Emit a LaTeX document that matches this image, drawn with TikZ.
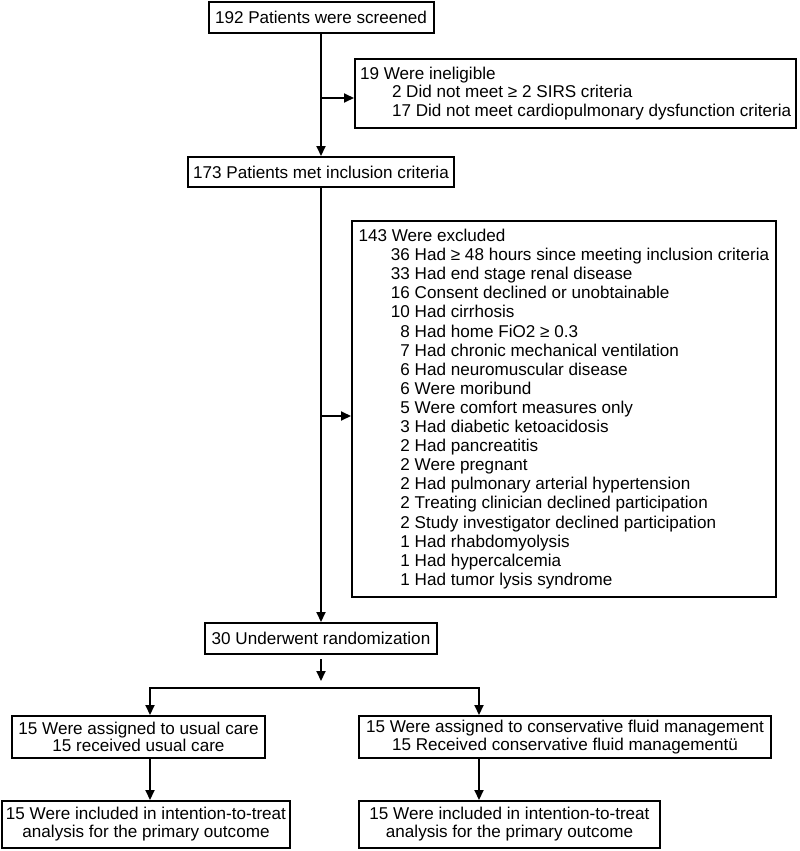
\documentclass[tikz,border=0pt]{standalone}
\usepackage{fontspec}
\setmainfont{Liberation Sans}
\usetikzlibrary{arrows.meta}
\newcommand\fs[1]{\fontsize{17.1pt}{#1}\selectfont}
\newcommand\itm[2]{\makebox[51.5pt][r]{#1} #2}
\newcommand\subl[1]{\hspace*{32pt}#1}

\begin{document}
\begin{tikzpicture}[x=1pt, y=-1pt,
            box/.style = {draw, line width=2pt, inner xsep=0pt, inner ysep=0pt,
                          font=\fs{18pt}, align=center},
            listbox/.style = {box, align=left, anchor=west},
            arr/.style = {line width=2pt, -{Triangle[length=10pt,width=9pt]}},
            arrboth/.style = {line width=2pt,
                          {Triangle[length=10pt,width=9pt]}-{Triangle[length=10pt,width=9pt]}}]
\useasboundingbox (0,0) rectangle (800,851);

\node[box, minimum width=225pt, minimum height=31pt] (screen) at (321,17.5)
    {192 Patients were screened};
\node[listbox, inner xsep=5pt, minimum height=69pt, font=\fs{18.5pt}] (inelig) at (354,93.5)
    {19 Were ineligible\\
     \subl{2 Did not meet ≥ 2 SIRS criteria}\\
     \subl{17 Did not meet cardiopulmonary dysfunction criteria}};
\node[box, minimum width=266pt, minimum height=30pt] (incl) at (321,172)
    {173 Patients met inclusion criteria};
\node[listbox, inner xsep=6.5pt, minimum height=376pt, font=\fs{19.1pt}] (excl) at (351,409)
    {143 Were excluded\\
     \itm{36}{Had ≥ 48 hours since meeting inclusion criteria}\\
     \itm{33}{Had end stage renal disease}\\
     \itm{16}{Consent declined or unobtainable}\\
     \itm{10}{Had cirrhosis}\\
     \itm{8}{Had home FiO2 ≥ 0.3}\\
     \itm{7}{Had chronic mechanical ventilation}\\
     \itm{6}{Had neuromuscular disease}\\
     \itm{6}{Were moribund}\\
     \itm{5}{Were comfort measures only}\\
     \itm{3}{Had diabetic ketoacidosis}\\
     \itm{2}{Had pancreatitis}\\
     \itm{2}{Were pregnant}\\
     \itm{2}{Had pulmonary arterial hypertension}\\
     \itm{2}{Treating clinician declined participation}\\
     \itm{2}{Study investigator declined participation}\\
     \itm{1}{Had rhabdomyolysis}\\
     \itm{1}{Had hypercalcemia}\\
     \itm{1}{Had tumor lysis syndrome}};
\node[box, minimum width=232pt, minimum height=31pt] (rand) at (321,638.5)
    {30 Underwent randomization};
\node[box, minimum width=253pt, minimum height=42pt, font=\fs{17.5pt}] (usual) at (138.5,737)
    {15 Were assigned to usual care\\15 received usual care};
\node[box, minimum width=412pt, minimum height=42pt, font=\fs{17.5pt}] (cons) at (565,737)
    {15 Were assigned to conservative fluid management\\15 Received conservative fluid managementü};
\node[box, minimum width=288pt, minimum height=47pt] (ittL) at (146,824.5)
    {15 Were included in intention-to-treat\\analysis for the primary outcome};
\node[box, minimum width=301pt, minimum height=47pt] (ittR) at (509.5,824.5)
    {15 Were included in intention-to-treat\\analysis for the primary outcome};

\coordinate (j1) at (321,98);
\coordinate (j2) at (321,416);
\coordinate (r2) at (321,681);
\coordinate (hl) at (150,688);
\coordinate (hr) at (479,688);

\draw[arr] (screen) -- (incl);
\draw[arr] (j1) -- (j1 -| inelig.west);
\draw[arr] (incl) -- (rand);
\draw[arr] (j2) -- (j2 -| excl.west);
\draw[arr] ([yshift=-4pt]rand.south) -- (rand.south |- r2);
\draw[arrboth] (hl |- usual.north) -- (hl) -- (hr) -- (hr |- cons.north);
\draw[arr] (usual.south -| hl) -- (ittL.north -| hl);
\draw[arr] (cons.south -| hr) -- (ittR.north -| hr);

\end{tikzpicture}
\end{document}
